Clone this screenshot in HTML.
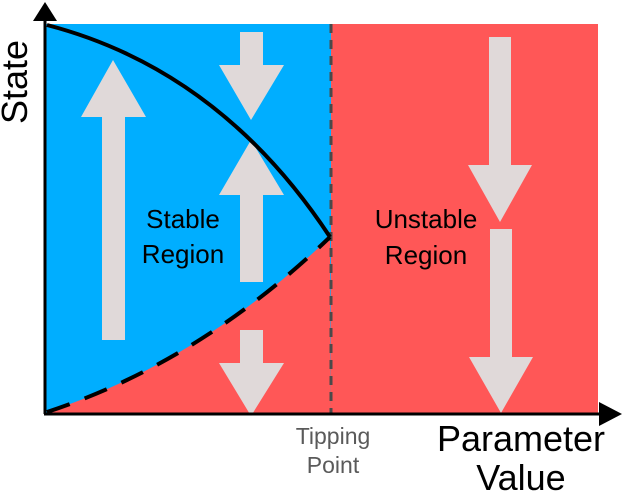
<!DOCTYPE html>
<html><head><style>
body{margin:0;background:#fff;}
svg{display:block;}
text{font-family:"Liberation Sans",sans-serif;}
</style></head><body>
<svg width="623" height="495" viewBox="0 0 623 495" xmlns="http://www.w3.org/2000/svg">
<rect x="45" y="24" width="286" height="390" fill="#00aeff"/>
<rect x="331" y="24" width="267" height="390" fill="#ff5757"/>
<path d="M47,412 Q200,362 330,237 L331,414 L47,414 Z" fill="#ff5757"/>
<g fill="#e0d9d9">
<polygon points="102,340 125,340 125,117 146,117 113,60 81,117 102,117"/>
<polygon points="240,32 263,32 263,65 284,65 251,120 219,65 240,65"/>
<polygon points="240,282 263,282 263,195 284,195 251,140 219,195 240,195"/>
<polygon points="240,330 263,330 263,363 284,363 251,416 219,363 240,363"/>
<polygon points="489,37 511,37 511,165 532,165 500,222 468,165 489,165"/>
<polygon points="490,229 512,229 512,357 533,357 501,413 469,357 490,357"/>
</g>
<line x1="331" y1="24" x2="331" y2="414" stroke="#4a4a4a" stroke-width="3" stroke-dasharray="9,7"/>
<path d="M47,25 Q220,70 330,237" fill="none" stroke="#000" stroke-width="4"/>
<path d="M47,412 Q200,362 330,237" fill="none" stroke="#000" stroke-width="4" stroke-dasharray="24,16"/>
<line x1="45" y1="414" x2="45" y2="18" stroke="#000" stroke-width="3"/>
<polygon points="33,21 57,21 45,2" fill="#000"/>
<line x1="44" y1="414" x2="602" y2="414" stroke="#000" stroke-width="3"/>
<polygon points="599,402 599,426 622,414" fill="#000"/>
<text x="183" y="228" font-size="26" text-anchor="middle" fill="#000">Stable</text>
<text x="183" y="263" font-size="26" text-anchor="middle" fill="#000">Region</text>
<text x="426" y="228" font-size="26" text-anchor="middle" fill="#000">Unstable</text>
<text x="426" y="264" font-size="26" text-anchor="middle" fill="#000">Region</text>
<text x="333" y="444" font-size="23" text-anchor="middle" fill="#5a5a5a">Tipping</text>
<text x="333" y="473" font-size="23" text-anchor="middle" fill="#5a5a5a">Point</text>
<text x="521" y="451" font-size="36" text-anchor="middle" fill="#000">Parameter</text>
<text x="521" y="490" font-size="36" text-anchor="middle" fill="#000">Value</text>
<text transform="translate(27,124) rotate(-90)" font-size="36" fill="#000">State</text>
</svg>
</body></html>
